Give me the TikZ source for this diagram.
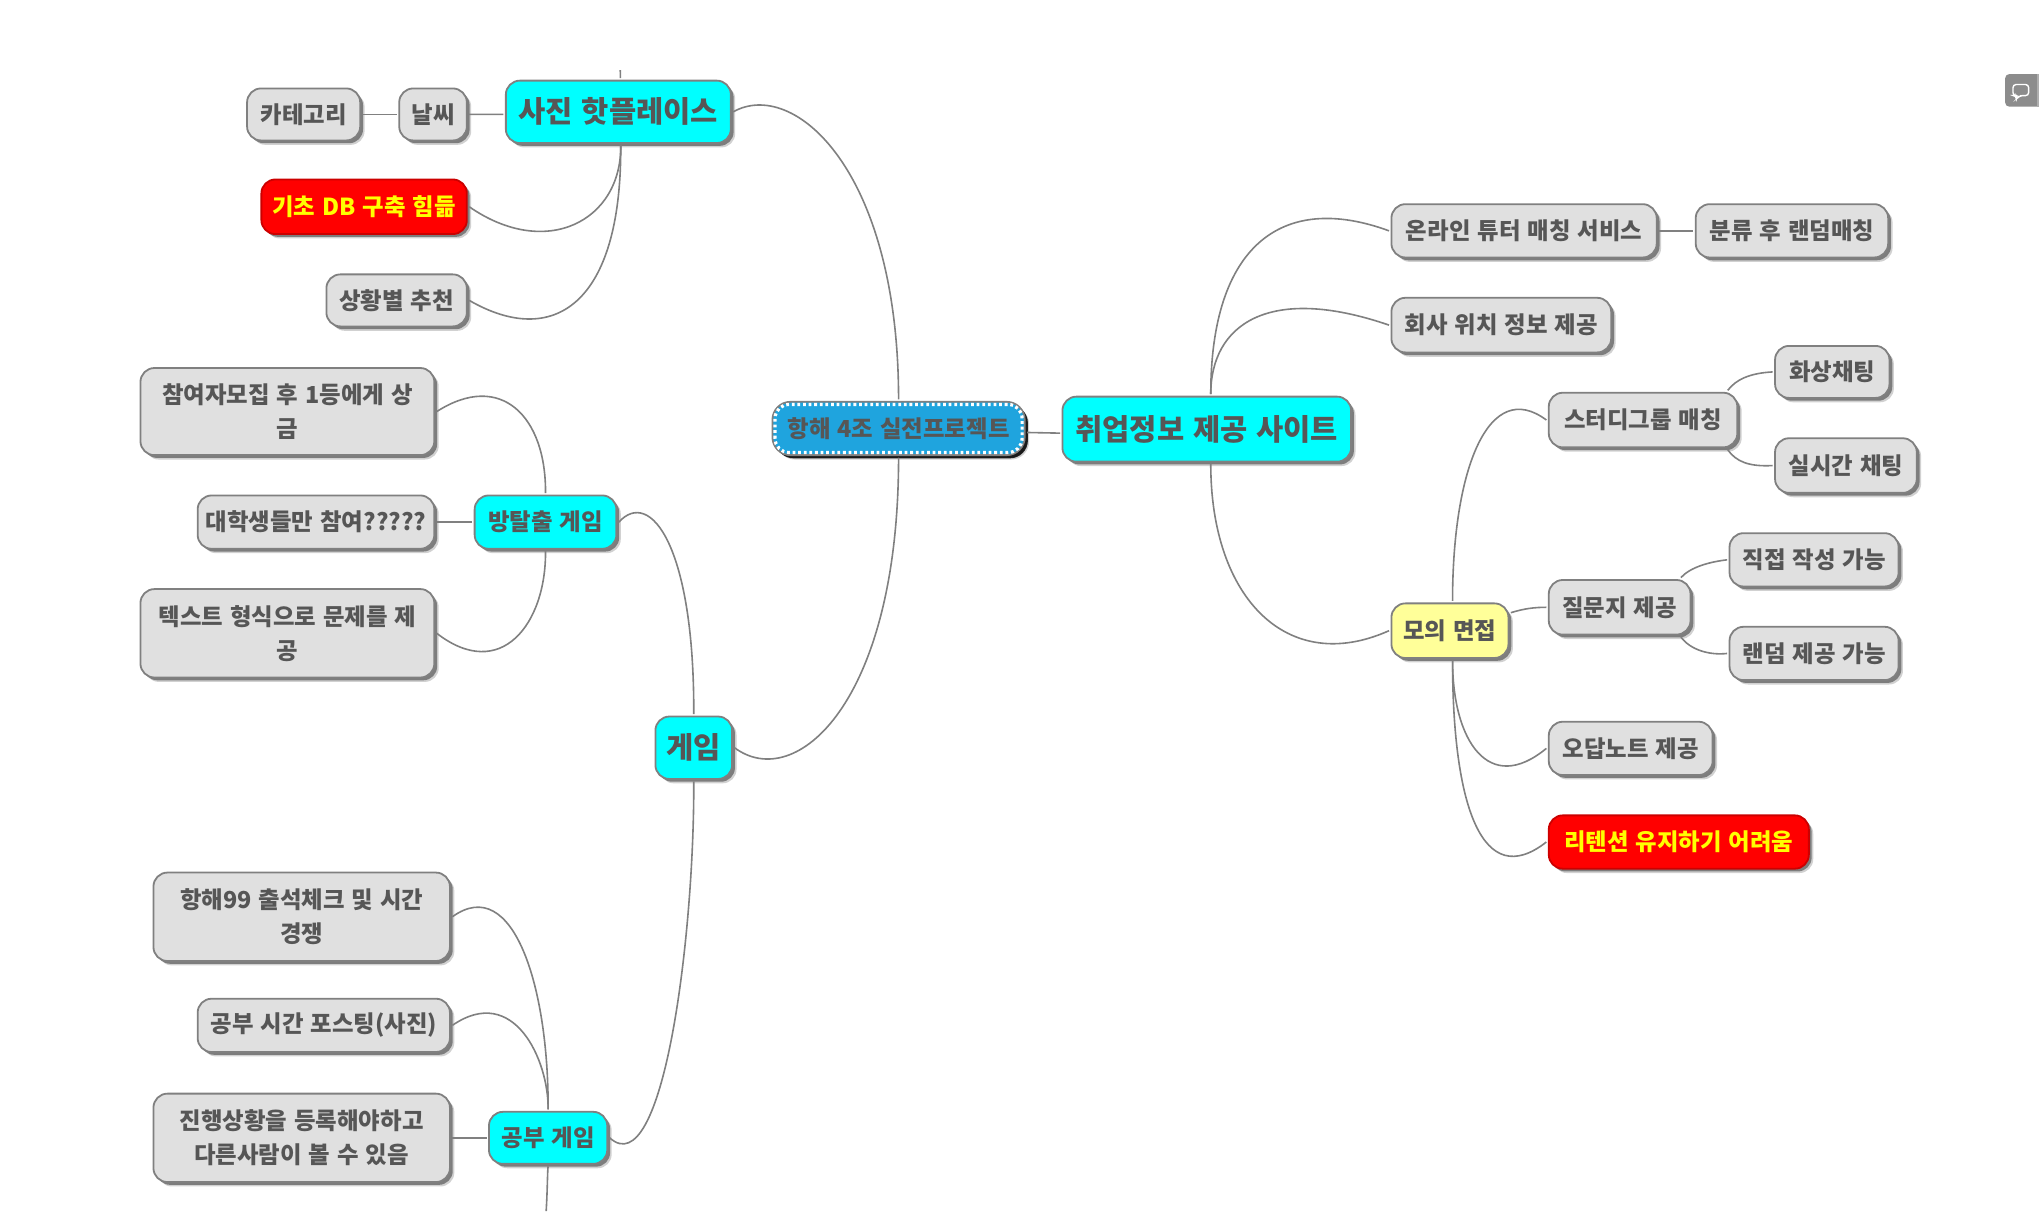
\documentclass[tikz,border=0pt]{standalone}
\usepackage{fontspec}
\setmainfont{Noto Sans CJK KR}[WordSpace=1.3]
\usetikzlibrary{shadows}
\definecolor{linkgray}{HTML}{808080}
\definecolor{txtgray}{HTML}{565656}
\definecolor{leaffill}{HTML}{E0E0E0}
\definecolor{rootblue}{HTML}{1FA4DE}
\definecolor{softyellow}{HTML}{FFFF99}
\definecolor{chatgray}{HTML}{8C8C8C}
\definecolor{purecyan}{RGB}{0,255,255}
\definecolor{purered}{RGB}{255,0,0}
\definecolor{pureyellow}{RGB}{255,255,0}
\tikzset{
  x=0.65pt,y=-0.65pt,
  softshadow/.style={
    drop shadow={shadow xshift=2.2pt,shadow yshift=-2.2pt,fill=black,opacity=.18},
    drop shadow={shadow xshift=1.4pt,shadow yshift=-1.4pt,fill=black,opacity=.4}},
  mbox/.style={draw=linkgray,line width=.9pt,rounded corners=7pt,inner sep=0pt,outer sep=1.2pt,
    softshadow,text=txtgray,align=center,font=\fontsize{11.7}{17}\selectfont\bfseries},
  leafbox/.style={mbox,fill=leaffill},
  redbox/.style={mbox,fill=purered,draw=purered!80!black,text=pureyellow},
  cyanbox/.style={mbox,fill=purecyan},
  bigbox/.style={mbox,fill=purecyan,font=\fontsize{14.8}{18}\selectfont\bfseries},
  yellowbox/.style={mbox,fill=softyellow},
  rootbox/.style={mbox,fill=rootblue,rounded corners=9pt,text=txtgray,
    drop shadow={shadow xshift=1.6pt,shadow yshift=-1.6pt,fill=black,opacity=.8}},
  link/.style={draw=linkgray,line width=.8pt},
}
\newcommand{\mtext}[7]{%
  \node[#6,minimum width={(#4-#2)*0.65pt},minimum height={(#5-#3)*0.65pt}] (#1) at ({(#2+#4)/2},{(#3+#5)/2}) {#7};}
\begin{document}
\begin{tikzpicture}
\useasboundingbox (0,0) rectangle (1568,931.3);
\fill[white] (0,0) rectangle (1568,931.3);
% left branch
\mtext{hot}{389}{62}{562}{110}{bigbox}{사진 핫플레이스}
\mtext{weather}{307}{68}{359}{108}{leafbox}{날씨}
\mtext{category}{190}{68}{277}{108}{leafbox}{카테고리}
\mtext{dbhard}{201}{138}{359}{180}{redbox}{기초 DB 구축 힘듦}
\mtext{situation}{251}{211}{359}{251}{leafbox}{상황별 추천}
\mtext{recruit}{108}{283}{334}{350}{leafbox}{참여자모집 후 1등에게 상\\금}
\mtext{college}{152}{381}{334}{422}{leafbox}{대학생들만 참여?????}
\mtext{textform}{108}{453}{334}{521}{leafbox}{텍스트 형식으로 문제를 제\\공}
\mtext{escape}{365}{381}{474}{422}{cyanbox}{방탈출 게임}
\mtext{game}{504}{551}{563}{599}{bigbox}{게임}
\mtext{check}{118}{671}{346}{739}{leafbox}{항해99 출석체크 및 시간\\경쟁}
\mtext{posting}{152}{768}{346}{809}{leafbox}{공부 시간 포스팅(사진)}
\mtext{progress}{118}{841}{346}{909}{leafbox}{진행상황을 등록해야하고\\다른사람이 볼 수 있음}
\mtext{study}{376}{855}{467}{895}{cyanbox}{공부 게임}
% centre
\mtext{root}{594}{309}{788}{350}{rootbox}{항해 4조 실전프로젝트}
\draw[white,line width=1.6pt,dash pattern=on 1.4pt off 1.4pt,rounded corners=7pt]
  ([shift={(2.5pt,2.5pt)}]root.south west) rectangle ([shift={(-2.5pt,-2.5pt)}]root.north east);
\mtext{jobs}{817}{305}{1039}{355}{bigbox}{취업정보 제공 사이트}
% right branch
\mtext{tutor}{1070}{157}{1274}{198}{leafbox}{온라인 튜터 매칭 서비스}
\mtext{random}{1304}{157}{1452}{198}{leafbox}{분류 후 랜덤매칭}
\mtext{company}{1070}{229}{1239}{271}{leafbox}{회사 위치 정보 제공}
\mtext{group}{1191}{302}{1336}{344}{leafbox}{스터디그룹 매칭}
\mtext{video}{1365}{266}{1453}{306}{leafbox}{화상채팅}
\mtext{realtime}{1365}{337}{1474}{379}{leafbox}{실시간 채팅}
\mtext{mock}{1070}{464}{1160}{506}{yellowbox}{모의 면접}
\mtext{question}{1191}{446}{1300}{488}{leafbox}{질문지 제공}
\mtext{write}{1330}{410}{1460}{451}{leafbox}{직접 작성 가능}
\mtext{randq}{1330}{482}{1460}{523}{leafbox}{랜덤 제공 가능}
\mtext{wrong}{1191}{555}{1317}{596}{leafbox}{오답노트 제공}
\mtext{retain}{1191}{627}{1391}{668}{redbox}{리텐션 유지하기 어려움}
% free ends
\coordinate (hottop) at (477,54);
\coordinate (studyend) at (420,931.3);
% connectors
\draw[link] ([yshift=-2pt]root.east) -- ([yshift=-2pt]jobs.west);
\draw[link] (root.north) .. controls (691,130) and (610,60) .. (hot.east);
\draw[link] (root.south) .. controls (691,540) and (612,610) .. (game.east);
\draw[link] ([xshift=1pt]hot.north) -- (hottop);
\draw[link] ([yshift=-1.3pt]hot.west) -- (weather.east);
\draw[link] (weather.west) -- (category.east);
\draw[link] ([xshift=1.2pt]hot.south) .. controls (478,170) and (420,200) .. (dbhard.east);
\draw[link] ([xshift=1.2pt]hot.south) .. controls (478,235) and (425,268) .. (situation.east);
\draw[link] (game.north) .. controls (534,420) and (500,375) .. (escape.east);
\draw[link] (game.south) .. controls (534,720) and (510,912) .. (study.east);
\draw[link] (escape.north) .. controls (420,320) and (385,285) .. (recruit.east);
\draw[link] (escape.west) -- (college.east);
\draw[link] (escape.south) .. controls (420,480) and (385,525) .. (textform.east);
\draw[link] (study.north) .. controls (422,760) and (395,671) .. (check.east);
\draw[link] (study.north) .. controls (422,815) and (395,756) .. (posting.east);
\draw[link] (study.west) -- (progress.east);
\draw[link] (study.south) .. controls (421,900) and (421,915) .. (studyend);
\draw[link] ([xshift=2pt]jobs.north) .. controls (931,190) and (985,147) .. (tutor.west);
\draw[link] ([xshift=2pt]jobs.north) .. controls (931,250) and (975,218) .. (company.west);
\draw[link] ([xshift=2pt]jobs.south) .. controls (931,460) and (990,520) .. (mock.west);
\draw[link] (tutor.east) -- (random.west);
\draw[link] ([xshift=1.3pt]mock.north) .. controls (1117,360) and (1145,290) .. (group.west);
\draw[link] ([yshift=9pt]mock.east) .. controls (1172,468) and (1180,467) .. (question.west);
\draw[link] ([xshift=1.3pt]mock.south) .. controls (1117,570) and (1145,612) .. (wrong.west);
\draw[link] ([xshift=1.3pt]mock.south) .. controls (1117,620) and (1140,686) .. (retain.west);
\draw[link] ([xshift=-6pt]group.north east) .. controls (1335,292) and (1345,287) .. (video.west);
\draw[link] ([xshift=-6pt]group.south east) .. controls (1335,355) and (1345,359) .. (realtime.west);
\draw[link] ([xshift=-6pt]question.north east) .. controls (1300,436) and (1315,432) .. (write.west);
\draw[link] ([xshift=-6pt]question.south east) .. controls (1300,500) and (1315,504) .. (randq.west);
% chat icon
\fill[chatgray,rounded corners=2pt] (1542,57) rectangle (1570,82);
\fill[chatgray!70] (1566.5,57) rectangle (1568,82);
\draw[white,line width=.7pt,rounded corners=1.5pt] (1548,65) -- (1560,65) -- (1560,73.5) -- (1553,73.5) -- (1550.5,76.5) -- (1550.5,73.5) -- (1548,73.5) -- cycle;
\end{tikzpicture}
\end{document}
